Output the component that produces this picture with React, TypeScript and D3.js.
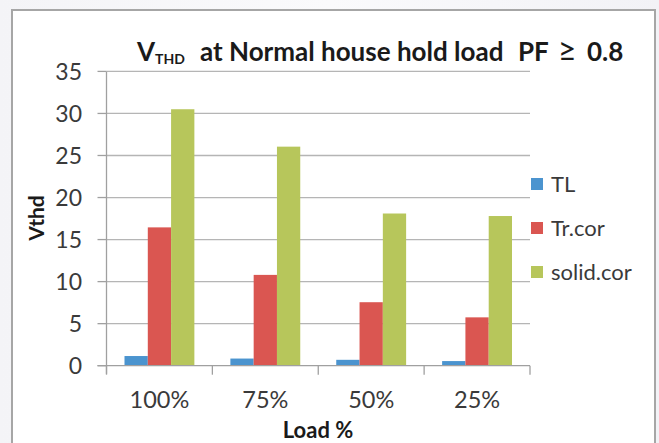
import React from "react";
import * as d3 from "d3";

const categories = ["100%", "75%", "50%", "25%"];
const seriesNames = ["TL", "Tr.cor", "solid.cor"];
const tlValues = [1.15, 0.85, 0.7, 0.55];
const trCorValues = [16.45, 10.8, 7.55, 5.75];
const solidCorValues = [30.5, 26.05, 18.1, 17.8];
const yTicks = [0, 5, 10, 15, 20, 25, 30, 35];
const colors = ["#4b94cf", "#da5651", "#b7c65b"];

const W = 659;
const H = 443;
const FONT = "Lato, 'Open Sans', sans-serif";

export default function App() {
  const series = [tlValues, trCorValues, solidCorValues];
  const x = d3.scaleBand<string>().domain(categories).range([106.5, 530]).paddingInner(0).paddingOuter(0);
  const pad = 18;
  const xi = d3
    .scaleBand<string>()
    .domain(seriesNames)
    .range([pad, x.bandwidth() - pad])
    .paddingInner(0);
  const y = d3.scaleLinear().domain([0, 35]).range([365.7, 71.4]);
  const x0 = 106.5;
  const x1 = 530;

  return (
    <svg
      width={W}
      height={H}
      style={{ position: "absolute", left: 0, top: 0, display: "block" }}
      fontFamily={FONT}
    >
      <defs>
        <linearGradient id="bg" x1="0" x2="1" y1="0" y2="0">
          <stop offset="0" stopColor="#f4f4f7" />
          <stop offset="0.5" stopColor="#fafafc" />
          <stop offset="1" stopColor="#f2f2f6" />
        </linearGradient>
      </defs>
      <rect x={0} y={0} width={W} height={H} fill="url(#bg)" />
      <rect x={12} y={10} width={643} height={H} fill="#ffffff" stroke="#a6a6a6" strokeWidth={2} />

      {/* gridlines */}
      {yTicks.slice(1).map((t) => (
        <line key={"g" + t} x1={x0} x2={x1} y1={y(t)} y2={y(t)} stroke="#b5b5b5" strokeWidth={1.3} />
      ))}

      {/* bars */}
      {categories.map((c, ci) => (
        <g key={c} transform={`translate(${x(c)},0)`}>
          {seriesNames.map((s, si) => {
            const v = series[si][ci];
            return (
              <rect
                key={s}
                x={xi(s)}
                y={y(v)}
                width={xi.bandwidth()}
                height={y(0) - y(v)}
                fill={colors[si]}
              />
            );
          })}
        </g>
      ))}

      {/* y axis */}
      <line x1={x0} x2={x0} y1={y(35)} y2={y(0) + 8} stroke="#a0a0a0" strokeWidth={1.3} />
      {yTicks.map((t) => (
        <g key={"y" + t}>
          <line x1={x0 - 9} x2={x0} y1={y(t)} y2={y(t)} stroke="#a0a0a0" strokeWidth={1.3} />
          <text x={82} y={y(t)} dy="0.36em" textAnchor="end" fontSize={23} fill="#3a3a3a">
            {t}
          </text>
        </g>
      ))}

      {/* x axis */}
      <line x1={x0 - 9} x2={x1} y1={y(0)} y2={y(0)} stroke="#a0a0a0" strokeWidth={1.3} />
      {[...categories.map((c) => x(c) as number), x1].map((px, i) => (
        <line key={"xt" + i} x1={px} x2={px} y1={y(0)} y2={y(0) + 9} stroke="#a0a0a0" strokeWidth={1.3} />
      ))}
      {categories.map((c) => (
        <text
          key={"xl" + c}
          x={(x(c) as number) + x.bandwidth() / 2}
          y={408}
          textAnchor="middle"
          fontSize={23.5}
          fill="#3a3a3a"
        >
          {c}
        </text>
      ))}

      {/* axis titles */}
      <text
        transform={`translate(44,218) rotate(-90)`}
        textAnchor="middle"
        fontSize={21}
        fontWeight="bold"
        fill="#1a1a1a"
      >
        Vthd
      </text>
      <text x={318} y={438} textAnchor="middle" fontSize={22} fontWeight="bold" fill="#1a1a1a">
        Load %
      </text>

      {/* title */}
      <text y={61} fontSize={26} fontWeight="bold" fill="#1a1a1a">
        <tspan x={137}>V</tspan>
        <tspan x={155} y={64} fontSize={14}>
          THD
        </tspan>
        <tspan x={200} y={61}>
          at Normal house hold load
        </tspan>
        <tspan x={518}>PF</tspan>
        <tspan x={558} fontWeight="normal" fontSize={32}>
          ≥
        </tspan>
        <tspan x={587}>0.8</tspan>
      </text>

      {/* legend */}
      {seriesNames.map((s, i) => {
        const cy = 184 + i * 44;
        return (
          <g key={"lg" + s}>
            <rect x={531} y={cy - 6} width={12} height={12} fill={colors[i]} />
            <text x={551} y={cy} dy="0.36em" fontSize={22} fill="#3a3a3a">
              {s}
            </text>
          </g>
        );
      })}
    </svg>
  );
}
